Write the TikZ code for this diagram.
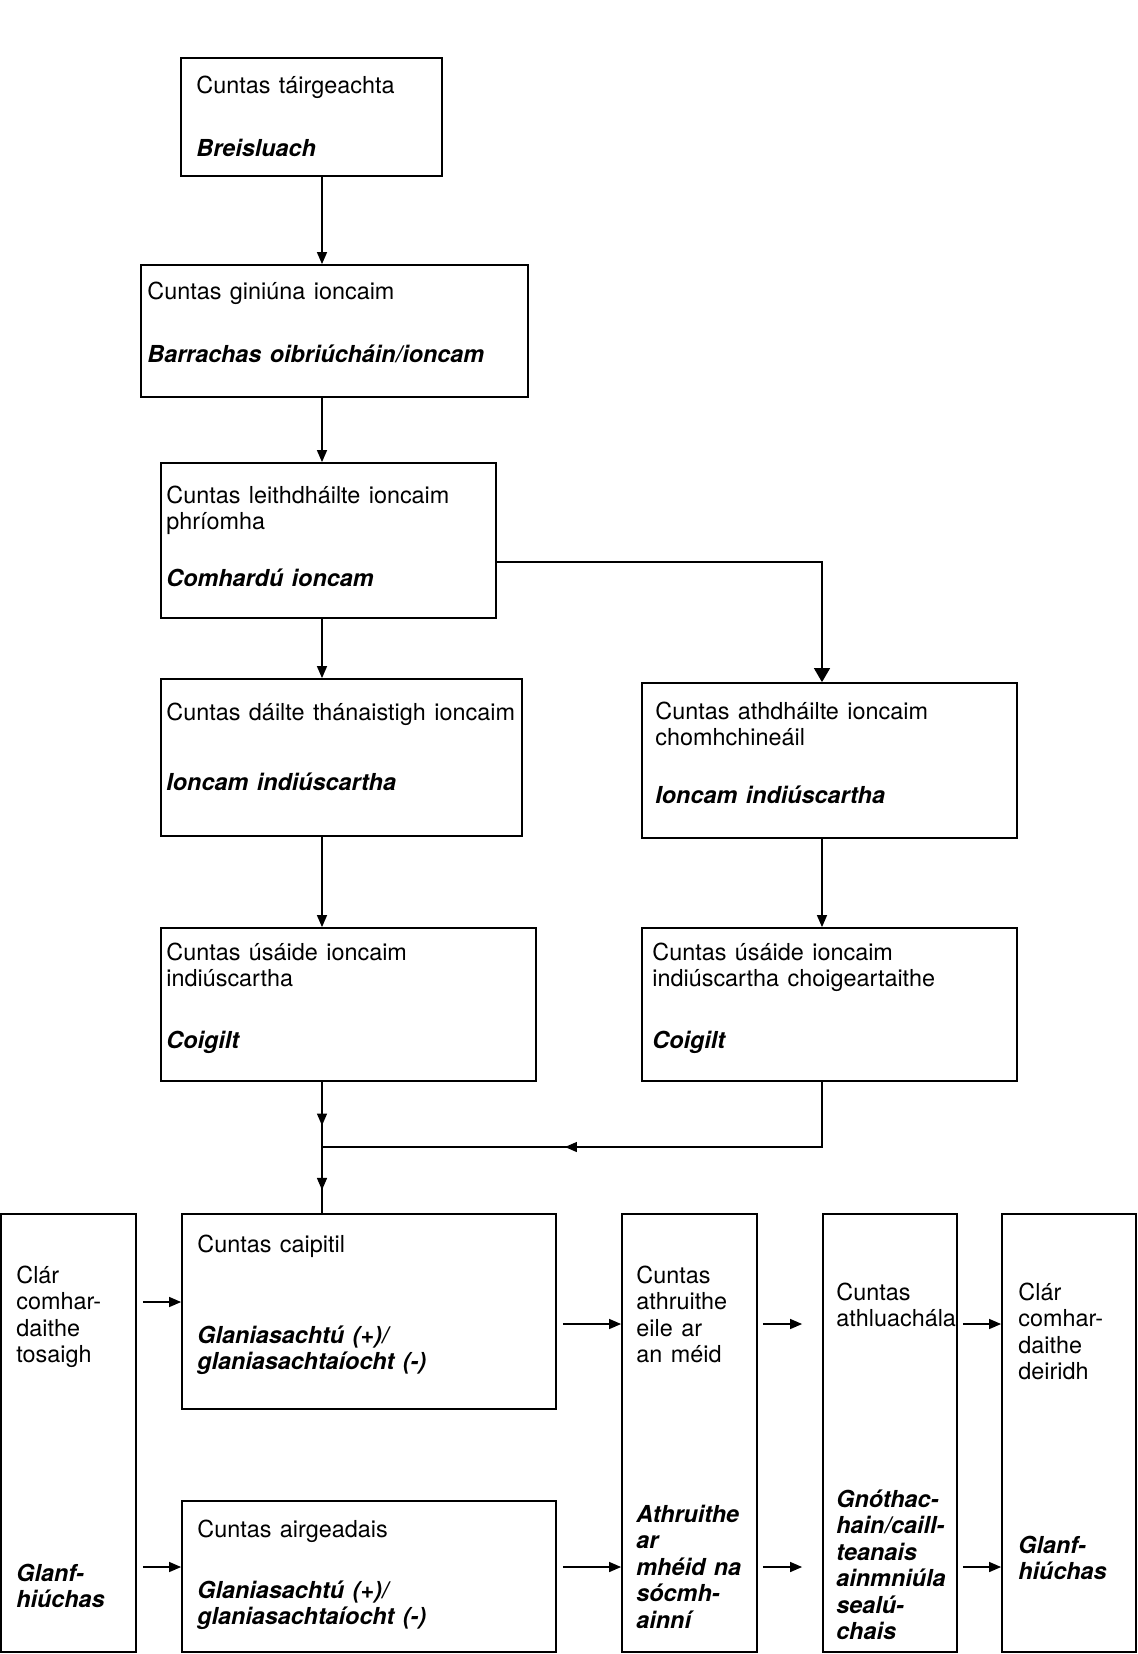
\documentclass[tikz,border=0pt]{standalone}
\usepackage{fontspec}
\setmainfont[WordSpace=1.3]{TeX Gyre Heros}
\usetikzlibrary{arrows.meta,fit,decorations.markings}
\newcommand\acrows[1]{\begin{tabular}[t]{@{}l@{}}#1\end{tabular}}
\tikzset{
  acct/.style={draw,line width=.9pt,inner sep=0pt},
  txt/.style={anchor=base west,inner sep=0pt,font=\fontsize{11.7}{13.25}\selectfont},
  bi/.style={txt,font=\fontsize{11.7}{13.25}\selectfont\bfseries\itshape},
  flow/.style={line width=.7pt,-{Triangle[length=6pt,width=5pt]}},
  via/.style={line width=.7pt,postaction={decorate},
    decoration={markings,mark=at position #1 with {\arrow{Triangle[length=6pt,width=5pt]}}}}
}
\begin{document}
\begin{tikzpicture}[x=.5pt,y=-.5pt]
\useasboundingbox (0,0) rectangle (1138,1654);
% accounts, upper part
\node[acct,fit={(181,58)(442,176)}] (prod) {};
\node[acct,fit={(141,265)(528,397)}] (gen) {};
\node[acct,fit={(161,463)(496,618)}] (prim) {};
\node[acct,fit={(161,679)(522,836)}] (sec) {};
\node[acct,fit={(642,683)(1017,838)}] (redis) {};
\node[acct,fit={(161,928)(536,1081)}] (use) {};
\node[acct,fit={(642,928)(1017,1081)}] (adj) {};
% accounts, lower part
\node[acct,fit={(1,1214)(136,1652)}] (open) {};
\node[acct,fit={(182,1214)(556,1409)}] (cap) {};
\node[acct,fit={(182,1501)(556,1652)}] (fin) {};
\node[acct,fit={(622,1214)(757,1652)}] (oth) {};
\node[acct,fit={(823,1214)(957,1652)}] (rev) {};
\node[acct,fit={(1002,1214)(1136,1652)}] (clo) {};
% texts
\node[txt] (prodt) at (196,93) {Cuntas táirgeachta};
\node[bi] (prodb) at (196,156) {Breisluach};
\node[txt] (gent) at (147,299) {Cuntas giniúna ioncaim};
\node[bi] (genb) at (147,362) {Barrachas oibriúcháin/ioncam};
\node[txt] (primt) at (166,503) {\acrows{Cuntas leithdháilte ioncaim\\phríomha}};
\node[bi] (primb) at (166,586) {Comhardú ioncam};
\node[txt] (sect) at (166,720) {Cuntas dáilte thánaistigh ioncaim};
\node[bi] (secb) at (166,790) {Ioncam indiúscartha};
\node[txt] (redist) at (655,719) {\acrows{Cuntas athdháilte ioncaim\\chomhchineáil}};
\node[bi] (redisb) at (655,803) {Ioncam indiúscartha};
\node[txt] (uset) at (166,960) {\acrows{Cuntas úsáide ioncaim\\indiúscartha}};
\node[bi] (useb) at (166,1048) {Coigilt};
\node[txt] (adjt) at (652,960) {\acrows{Cuntas úsáide ioncaim\\indiúscartha choigeartaithe}};
\node[bi] (adjb) at (652,1048) {Coigilt};
\node[txt] (opent) at (16,1283) {\acrows{Clár\\comhar-\\daithe\\tosaigh}};
\node[bi] (openb) at (16,1581) {\acrows{Glanf-\\hiúchas}};
\node[txt] (capt) at (197,1252) {Cuntas caipitil};
\node[bi] (capb) at (197,1343) {\acrows{Glaniasachtú (+)/\\glaniasachtaíocht (-)}};
\node[txt] (fint) at (197,1537) {Cuntas airgeadais};
\node[bi] (finb) at (197,1598) {\acrows{Glaniasachtú (+)/\\glaniasachtaíocht (-)}};
\node[txt] (otht) at (636,1283) {\acrows{Cuntas\\athruithe\\eile ar\\an méid}};
\node[bi] (othb) at (636,1522) {\acrows{Athruithe\\ar\\mhéid na\\sócmh-\\ainní}};
\node[txt] (revt) at (836,1300) {\acrows{Cuntas\\athluachála}};
\node[bi] (revb) at (836,1507) {\acrows{Gnóthac-\\hain/caill-\\teanais\\ainmniúla\\sealú-\\chais}};
\node[txt] (clot) at (1018,1300) {\acrows{Clár\\comhar-\\daithe\\deiridh}};
\node[bi] (clob) at (1018,1553) {\acrows{Glanf-\\hiúchas}};
% connectors
\coordinate (ax) at (322,0);
\coordinate (rx) at (822,0);
\coordinate (ry) at (0,562);
\coordinate (jn) at (322,1147);
\coordinate (jr) at (822,1147);
\coordinate (y1) at (0,1302);
\coordinate (y2) at (0,1324);
\coordinate (y3) at (0,1567);
\draw[flow] (prod.south -| ax) -- (gen.north -| ax);
\draw[flow] (gen.south -| ax) -- (prim.north -| ax);
\draw[flow] (prim.south -| ax) -- (sec.north -| ax);
\draw[flow,-{Triangle[length=7pt,width=8pt]}] (prim.east |- ry) -| (redis.north -| rx);
\draw[flow] (sec.south -| ax) -- (use.north -| ax);
\draw[flow] (redis.south -| rx) -- (adj.north -| rx);
\draw[via=.67] (use.south -| ax) -- (jn);
\draw[via=.57] (adj.south -| rx) -- (jr) -- (jn);
\draw[via=.65] (jn) -- (cap.north -| ax);
\draw[flow,shorten <=3pt] (open.east |- y1) -- (cap.west |- y1);
\draw[flow,shorten <=3pt] (open.east |- y3) -- (fin.west |- y3);
\draw[flow,shorten <=3pt] (cap.east |- y2) -- (oth.west |- y2);
\draw[flow,shorten <=3pt] (fin.east |- y3) -- (oth.west |- y3);
\draw[flow,shorten <=2.5pt,shorten >=10pt] (oth.east |- y2) -- (rev.west |- y2);
\draw[flow,shorten <=2.5pt,shorten >=10pt] (oth.east |- y3) -- (rev.west |- y3);
\draw[flow,shorten <=2.5pt] (rev.east |- y2) -- (clo.west |- y2);
\draw[flow,shorten <=2.5pt] (rev.east |- y3) -- (clo.west |- y3);
\end{tikzpicture}
\end{document}
